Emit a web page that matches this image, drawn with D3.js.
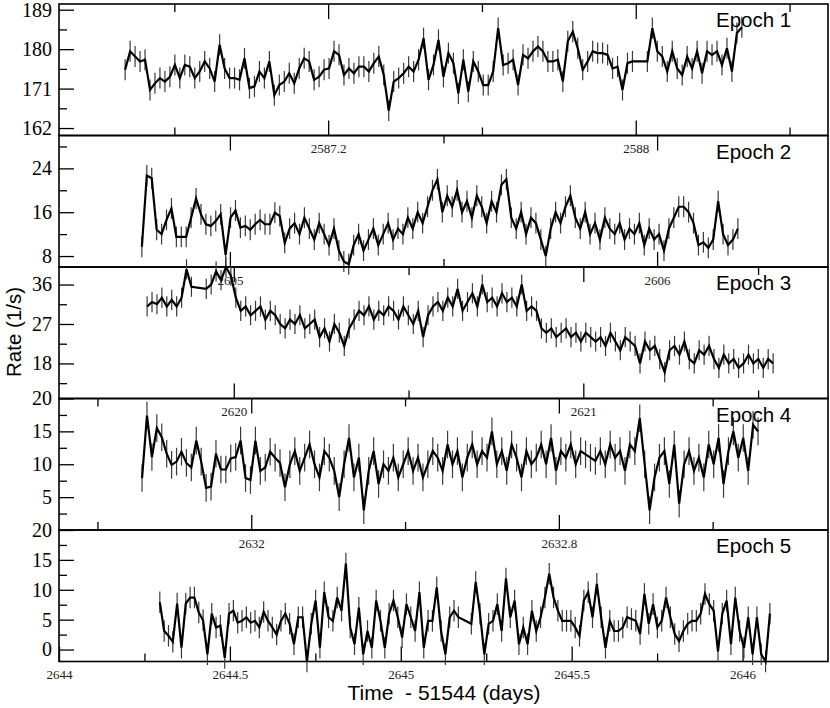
<!DOCTYPE html>
<html>
<head>
<meta charset="utf-8">
<script src="https://cdn.jsdelivr.net/npm/d3@7"></script>
<style>
  body { margin: 0; background: #fff; }
</style>
</head>
<body>
<svg id="chart" width="830" height="708"></svg>
<script>
var width = 830, height = 708;
var left = 59, right = 828, top0 = 4, panelH = 131.5;

// panel settings
var epochNames = ["Epoch 1", "Epoch 2", "Epoch 3", "Epoch 4", "Epoch 5"];
var yDomains = [[160.3, 190.3], [6, 30], [10, 40], [0, 20], [-2, 20]];
var yMajor = [[162, 171, 180, 189], [8, 16, 24], [18, 27, 36], [5, 10, 15, 20], [0, 5, 10, 15, 20]];
var yMinor = [[166.5, 175.5, 184.5], [12, 20, 28], [13.5, 22.5, 31.5], [2.5, 7.5, 12.5, 17.5], [2.5, 7.5, 12.5, 17.5]];
var xDomains = [[2586.5, 2588.5], [2604.6, 2606.4], [2619.5, 2621.7], [2631.5, 2633.5], [2644, 2646.25]];
var xMajor = [[2587.2, 2588], [2605, 2606], [2620, 2621], [2632, 2632.8], [2644, 2644.5, 2645, 2645.5, 2646]];
var xMinor = [[2586.8, 2587.6, 2588.4], [2605.5], [2620.5, 2621.5], [2631.6, 2632.4, 2633.2], [2644.25, 2644.75, 2645.25, 2645.75]];
var topTicks = [true, true, true, true, false];

// light curves: first / last bin time, rate values, error, data gaps [index, missing bins]
var epochStart = [2586.672, 2604.794, 2619.752, 2631.716, 2644.295];
var epochEnd = [2588.276, 2606.189, 2621.543, 2633.318, 2646.080];
var rateErr = [2.4, 1.9, 2.3, 2.1, 1.8];

var ep1Rate = [175.3, 179.5, 178.3, 177.2, 177.6, 170.7, 172.2, 173.4, 172.6, 173.7,
  176.4, 173.4, 176.4, 176.0, 173.4, 174.9, 177.2, 175.6, 172.6, 181.0,
  175.6, 173.4, 173.4, 173.0, 177.9, 171.1, 171.5, 174.9, 173.4, 177.2,
  169.5, 171.8, 172.6, 174.5, 172.2, 175.6, 177.9, 177.2, 173.0, 173.7,
  175.3, 175.6, 179.5, 178.7, 174.1, 175.6, 174.5, 176.0, 176.0, 174.9,
  176.8, 178.3, 174.1, 166.0, 172.6, 173.4, 174.5, 176.0, 174.9, 177.6,
  182.5, 173.0, 176.4, 182.1, 173.7, 179.1, 176.8, 169.9, 177.6, 170.3,
  177.2, 174.9, 171.8, 171.8, 174.9, 184.8, 176.4, 176.8, 177.6, 171.8,
  178.7, 177.9, 179.5, 180.6, 179.5, 177.2, 177.2, 177.6, 172.6, 181.8,
  184.0, 180.2, 175.3, 177.2, 179.5, 179.1, 179.1, 178.7, 175.6, 176.0,
  170.7, 176.8, 177.2,
  177.2, 184.8, 179.5, 178.3, 174.9, 179.5, 175.6, 174.1, 178.3, 175.6,
  179.5, 174.5, 179.5, 178.7, 179.5, 176.4, 180.2, 174.9, 183.7, 185.0];
var ep1Gaps = [[103, 2]];

var ep2Rate = [9.7, 22.7, 22.2, 12.8, 12.0, 14.6, 16.7, 11.5, 11.5, 11.5,
  15.0, 18.5, 15.6, 13.8, 13.5, 14.4, 15.6, 8.2, 15.0, 16.3,
  13.2, 13.5, 12.8, 13.8, 14.6, 13.8, 13.8, 15.9, 15.3, 10.4,
  13, 14, 12, 15, 13, 11, 14, 12, 10, 13,
  9, 7, 6.5, 10, 12, 9, 11, 13, 10, 12,
  14, 11, 13, 12, 15, 13, 16, 14, 17, 20,
  22, 16, 19, 17, 20, 16, 18, 15, 19, 17,
  14, 18, 16, 21, 22, 15, 13, 16, 12, 15,
  14, 11, 8, 13, 16, 14, 17, 19, 15, 13,
  16, 12, 14, 11, 15, 13, 12, 14, 11, 13,
  12, 14, 10, 13, 11, 12, 9, 13, 15, 17,
  17, 16, 14, 10, 10.5, 9.5, 11, 18, 12, 10, 11, 13];
var ep2Gaps = [];

var ep3Rate = [31, 32, 31.5, 33, 31, 32.5, 31, 33, 39.5, 35.5,
  35, 36, 39, 37, 40, 38,
  33, 30, 31, 29, 30, 31, 28, 30, 29,
  27, 26, 28, 27, 29, 26, 27, 28,
  24, 26, 23, 27, 25, 22, 26, 28,
  30, 29, 31, 28, 30, 29, 31, 30,
  28, 31, 29, 27, 30, 24, 29, 31,
  32, 30, 33, 31, 35, 30, 32, 34,
  31, 36, 32, 33, 31, 34, 32, 33,
  31, 36, 30, 31, 30, 26, 25, 26,
  24, 25, 26, 24, 25, 23, 25, 24,
  23, 24, 22, 25, 23, 21, 24, 23,
  22, 18, 23, 21, 22, 19, 16, 21,
  22, 20, 23, 19, 18, 21, 20, 22,
  19, 17, 20, 18, 19, 17, 18, 20,
  18, 19, 17, 19, 18];
var ep3Gaps = [[10, 2]];

var ep4Rate = [7.9, 17.4, 11.1, 15.5, 14.1, 11.6, 9.9, 10.4, 11.9, 10.2,
  9.5, 13.6, 10.4, 6.4, 6.6, 11.6, 9.2, 9.2, 10.9, 11.1,
  13.6, 7.9, 7.6, 13.6, 9.0, 9.5, 11.9, 11.0, 10.2, 6.5,
  10, 12, 9, 11, 13, 10, 8, 12, 11, 9,
  5, 10, 14, 8, 11, 3, 9, 12, 7, 10,
  9, 11, 8, 10, 12, 9, 11, 8, 10, 12,
  11, 9, 13, 10, 12, 8, 11, 13, 10, 12,
  11, 15, 10, 12, 9, 13, 11, 8, 12, 10,
  11, 13, 10, 14, 9, 12, 11, 13, 10, 12,
  11.5, 11, 10.5, 12, 10, 13, 11, 12, 9, 13,
  12, 17, 10, 3, 8, 11, 12, 7, 13, 4,
  10, 12, 9, 11, 8, 13, 10, 14, 7, 12, 15, 11, 14, 9, 16, 15];
var ep4Gaps = [];

var ep5Rate = [7.9, 3.1, 2.3, 1.3, 7.7, 0.3, 7.7, 8.7, 8.7, 6.2,
  4.9, -0.8, 6.0, 3.7, 4.0, -1.4, 6.0, 6.5, 4.5, 4.8,
  5.4, 4.5, 4.8, 3.7, 6.3, 4.8, 3.7, 2.5,
  4.8, 6.0, 4.3, 0.9, 5.4, 5.4, -2.0, 4.3, 8.2, 0.3,
  9.6, 5.4, 4.8, 8.7, 6.5, 14.4, 3.7, 0.9, 7.0, -0.8,
  3.1, 0.3, 8.2, 4.8, 0.3, 6.0, 8.2, 5.4, 2.0, 7.6,
  5.4, 3.1, 9.6, 0.3, 4.8, 4.8, 10.4, 3.1, -0.8, 5.4,
  6.5, 5.4,
  4.3, 11.3, 6.0, -0.8, 4.3, 4.8, 7.6, 3.1,
  11.9, 5.4, 8.2, 0.9, 3.7, 0.9, 6.5, 3.1, 5.4, 8.7,
  12.7, 8.7, 6.5, 4.8,
  4.8, 4.8, 3.7, 2.3, 8.2, 9.6, 5.4, 11.0, 5.4, 0.3,
  4.8, 3.1, 3.1, 3.7, 5.4, 5.1, 4.8, 2.6, 9.3, 4.3,
  7.6, 3.7, 4.8, 8.7, 5.4, 2.6, 1.4, 3.1, 4.3, 4.8,
  4.8, 6.0, 9.3, 7.6, 6.5, -0.3, 6.0, 8.2, 0.9, 8.7,
  3.1, 0.3, 5.4, -0.8, 5.4, -0.8, -2.0, 6.0];
var ep5Gaps = [[70, 2]];

var rates = [ep1Rate, ep2Rate, ep3Rate, ep4Rate, ep5Rate];
var gaps = [ep1Gaps, ep2Gaps, ep3Gaps, ep4Gaps, ep5Gaps];

var svg = d3.select("#chart");

// turn a rate list into points with bin times (gaps leave missing bins out)
function buildPoints(k) {
  var vals = rates[k], skip = 0, g = gaps[k];
  var total = vals.length - 1 + d3.sum(g, function (d) { return d[1]; });
  var dt = (epochEnd[k] - epochStart[k]) / total;
  return vals.map(function (v, i) {
    g.forEach(function (d) { if (d[0] === i) skip += d[1]; });
    return { t: epochStart[k] + (i + skip) * dt, r: v };
  });
}

epochNames.forEach(function (name, k) {
  var top = top0 + k * panelH;
  var g = svg.append("g").attr("transform", "translate(0," + top + ")");

  var x = d3.scaleLinear().domain(xDomains[k]).range([left, right]);
  var y = d3.scaleLinear().domain(yDomains[k]).range([panelH, 0]);

  // frame
  g.append("rect")
    .attr("x", left).attr("y", 0)
    .attr("width", right - left).attr("height", panelH)
    .attr("fill", "none").attr("stroke", "#000").attr("stroke-width", 1.6);

  // bottom axis, ticks pointing in, labels below
  var xb = g.append("g").attr("transform", "translate(0," + panelH + ")")
    .call(d3.axisBottom(x).tickValues(xMajor[k]).tickSize(-15).tickSizeOuter(0)
      .tickPadding(8.5).tickFormat(function (d) { return String(d); }));
  g.append("g").attr("transform", "translate(0," + panelH + ")")
    .call(d3.axisBottom(x).tickValues(xMinor[k]).tickSize(-8).tickSizeOuter(0).tickFormat(""));

  if (topTicks[k]) {
    g.append("g")
      .call(d3.axisTop(x).tickValues(xMajor[k]).tickSize(-15).tickSizeOuter(0).tickFormat(""));
    g.append("g")
      .call(d3.axisTop(x).tickValues(xMinor[k]).tickSize(-8).tickSizeOuter(0).tickFormat(""));
  }

  // left axis
  var yl = g.append("g").attr("transform", "translate(" + left + ",0)")
    .call(d3.axisLeft(y).tickValues(yMajor[k]).tickSize(-15).tickSizeOuter(0).tickPadding(7));
  g.append("g").attr("transform", "translate(" + left + ",0)")
    .call(d3.axisLeft(y).tickValues(yMinor[k]).tickSize(-8).tickSizeOuter(0).tickFormat(""));
  g.selectAll(".domain").remove();

  g.selectAll(".tick line").attr("stroke", "#000").attr("stroke-width", 1.3);
  xb.selectAll("text").style("font-family", "Liberation Serif").style("font-size", "13px").attr("fill", "#222");
  yl.selectAll("text").style("font-family", "Liberation Serif").style("font-size", "20px").attr("fill", "#000");

  // data
  var pts = buildPoints(k);
  g.selectAll(".err")
    .data(pts)
    .enter().append("line")
    .attr("class", "err")
    .attr("x1", function (d) { return x(d.t); })
    .attr("x2", function (d) { return x(d.t); })
    .attr("y1", function (d) { return y(d.r - rateErr[k]); })
    .attr("y2", function (d) { return y(d.r + rateErr[k]); })
    .attr("stroke", "#3a3a3a").attr("stroke-width", 1.2);

  g.append("path")
    .datum(pts)
    .attr("d", d3.line().x(function (d) { return x(d.t); }).y(function (d) { return y(d.r); }))
    .attr("fill", "none").attr("stroke", "#000").attr("stroke-width", 2.2);

  g.append("text")
    .attr("x", 716).attr("y", 23)
    .style("font-family", "Liberation Sans").style("font-size", "20.5px")
    .text(name);
});

svg.append("text")
  .attr("transform", "translate(21,332) rotate(-90)")
  .attr("text-anchor", "middle")
  .style("font-family", "Liberation Sans").style("font-size", "20.5px")
  .text("Rate (1/s)");

svg.append("text")
  .attr("x", 444).attr("y", 700)
  .attr("text-anchor", "middle")
  .style("white-space", "pre")
  .style("font-family", "Liberation Sans").style("font-size", "21px")
  .text("Time  - 51544 (days)");
</script>
</body>
</html>
